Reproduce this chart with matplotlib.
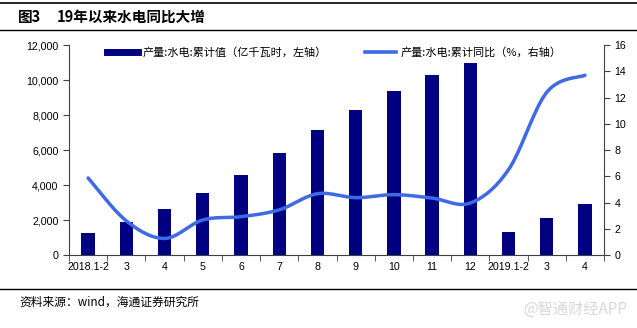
import matplotlib
matplotlib.use("Agg")
import matplotlib.pyplot as plt
from matplotlib.lines import Line2D
from matplotlib.ticker import FuncFormatter, FixedLocator
import numpy as np

plt.rcParams['font.family'] = ['Liberation Sans', 'Noto Sans CJK SC', 'DejaVu Sans']

categories = ['2018.1-2', '3', '4', '5', '6', '7', '8', '9', '10', '11', '12',
              '2019.1-2', '3', '4']
cum_value = [1270, 1900, 2620, 3540, 4560, 5850, 7120, 8300, 9400, 10300, 11000,
             1310, 2140, 2930]
cum_yoy = [5.87, 2.6, 1.26, 2.67, 2.92, 3.44, 4.67, 4.37, 4.6, 4.34, 3.96,
           6.5, 12.4, 13.7]

bar_label = '产量:水电:累计值（亿千瓦时，左轴）'
line_label = '产量:水电:累计同比（%，右轴）'
fig_no = '图3'
title = '19年以来水电同比大增'
source = '资料来源：wind，海通证券研究所'

NAVY = '#000080'
BLUE = '#3f6ae6'


def smooth(xs, ys, n=30):
    # catmull-rom style smoothing, like the office "smoothed line"
    xs = np.asarray(xs, float)
    ys = np.asarray(ys, float)
    px = np.concatenate([[xs[0]], xs, [xs[-1]]])
    py = np.concatenate([[ys[0]], ys, [ys[-1]]])
    outx, outy = [], []
    t = np.linspace(0, 1, n)
    for i in range(1, len(px) - 2):
        p0, p1, p2, p3 = (np.array([px[j], py[j]]) for j in (i - 1, i, i + 1, i + 2))
        c1 = p1 + (p2 - p0) / 6
        c2 = p2 - (p3 - p1) / 6
        b = ((1 - t) ** 3)[:, None] * p1 + (3 * (1 - t) ** 2 * t)[:, None] * c1 \
            + (3 * (1 - t) * t ** 2)[:, None] * c2 + (t ** 3)[:, None] * p2
        outx.extend(b[:, 0])
        outy.extend(b[:, 1])
    return outx, outy


fig = plt.figure(figsize=(6.37, 3.28), dpi=100)
ax = fig.add_axes([0.1083, 0.2226, 0.840, 0.640])
ax2 = ax.twinx()

x = np.arange(len(categories))
ax.bar(x, cum_value, width=0.35, color=NAVY, zorder=2)
sx, sy = smooth(x, cum_yoy)
ax2.plot(sx, sy, color=BLUE, lw=2.5, solid_capstyle='round', zorder=3)

ax.set_xlim(-0.5, len(categories) - 0.5)
ax.set_ylim(0, 12000)
ax2.set_ylim(0, 16)
ax.set_yticks(np.arange(0, 12001, 2000))
ax.yaxis.set_major_formatter(FuncFormatter(lambda v, p: f'{int(v):,}'))
ax2.set_yticks(np.arange(0, 17, 2))

ax.set_xticks(x)
ax.set_xticklabels(categories)
ax.xaxis.set_minor_locator(FixedLocator(np.arange(-0.5, len(categories), 1.0)))
ax.tick_params(axis='x', which='major', length=0, pad=5, labelsize=7.7)
ax.tick_params(axis='x', which='minor', length=4, direction='out', color='#404040')
ax.tick_params(axis='y', length=4, direction='out', labelsize=7.7, color='#404040')
ax2.tick_params(axis='y', length=4, direction='out', labelsize=7.7, color='#404040')

for a in (ax, ax2):
    a.spines['top'].set_visible(False)
    for s in ('left', 'right', 'bottom'):
        a.spines[s].set_color('#404040')
        a.spines[s].set_linewidth(0.8)
ax.spines['right'].set_visible(False)
ax2.spines['left'].set_visible(False)
ax2.spines['bottom'].set_visible(False)

cjk = ['Noto Sans CJK SC', 'DejaVu Sans']
handles = [Line2D([], [], color=NAVY, lw=5),
           Line2D([], [], color=BLUE, lw=2.6)]
leg = fig.legend(handles, [bar_label, line_label], ncol=2, frameon=False,
                 loc='center left', bbox_to_anchor=(0.168, 0.841),
                 borderpad=0, borderaxespad=0,
                 handlelength=2.8, handletextpad=0.4, columnspacing=3.4,
                 prop={'family': cjk, 'size': 8})

# header and footer rules
fig.add_artist(Line2D([0.0, 1.0], [0.99, 0.99], color='black', lw=1.2))
fig.add_artist(Line2D([0.0, 1.0], [0.909, 0.909], color='black', lw=1.0))
fig.add_artist(Line2D([0.0, 1.0], [0.119, 0.119], color='black', lw=1.0))

fig.text(0.028, 0.948, fig_no, fontsize=10.5, fontweight='bold', family=cjk,
         va='center', ha='left')
fig.text(0.089, 0.948, title, fontsize=10.5, fontweight='bold', family=cjk,
         va='center', ha='left')
fig.text(0.031, 0.079, source, fontsize=8.5, family=cjk, va='center', ha='left')
fig.text(0.985, 0.058, '@智通财经APP', fontsize=11, family=cjk, color='#d8d8d8',
         va='center', ha='right')

fig.savefig('out.png', dpi=100)
